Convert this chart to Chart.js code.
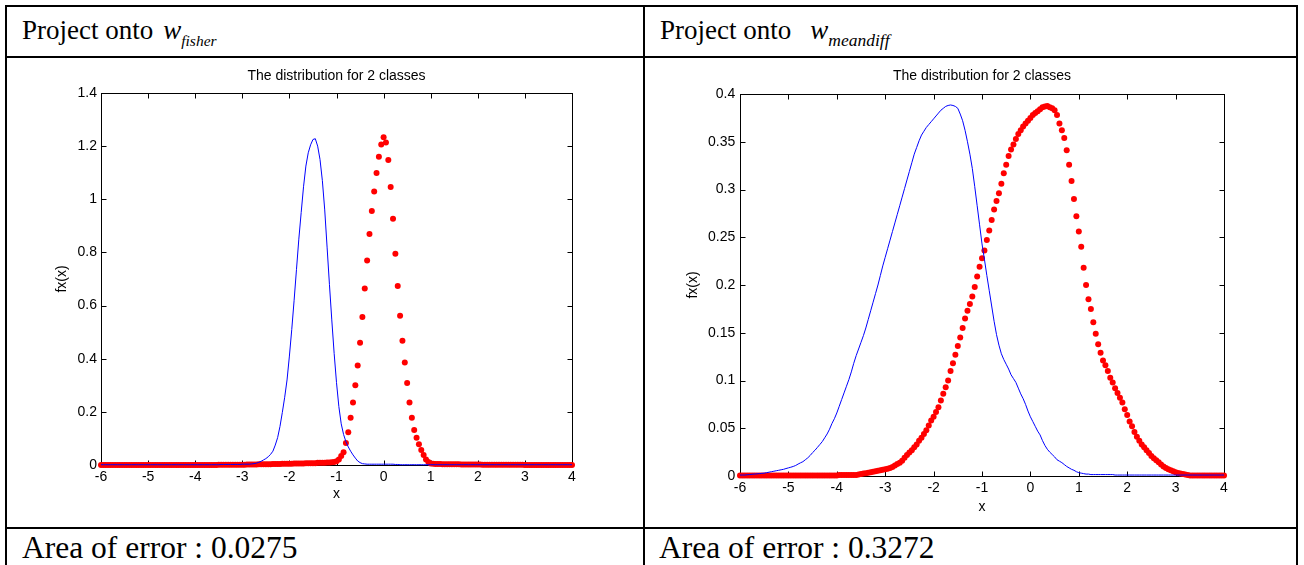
<!DOCTYPE html>
<html><head><meta charset="utf-8">
<script src="https://cdn.jsdelivr.net/npm/chart.js@4.4.0/dist/chart.umd.min.js"></script>
<style>
html,body{margin:0;padding:0;background:#fff;width:1304px;height:565px;overflow:hidden;}
.ln{position:absolute;background:#000;}
.txt{position:absolute;font-family:'Liberation Serif','Times New Roman',serif;font-size:31.5px;line-height:1;white-space:nowrap;color:#000;}
.hd{font-size:27px;}
.w{font-style:italic;}
.sub{font-style:italic;position:relative;top:7px;}
canvas{position:absolute;}
</style></head><body>
<div class="ln" style="left:5px;top:5px;width:1293px;height:2px"></div>
<div class="ln" style="left:5px;top:56px;width:1293px;height:2px"></div>
<div class="ln" style="left:5px;top:527px;width:1293px;height:2px"></div>
<div class="ln" style="left:5px;top:5px;width:2px;height:570px"></div>
<div class="ln" style="left:643px;top:5px;width:2px;height:570px"></div>
<div class="ln" style="left:1296px;top:5px;width:2px;height:570px"></div>

<div class="txt hd" style="left:22px;top:17px">Project onto<span class="w" style="margin-left:10px">w</span><span class="sub" style="font-size:15.5px">fisher</span></div>
<div class="txt hd" style="left:660px;top:17px">Project onto<span class="w" style="margin-left:19px">w</span><span class="sub" style="font-size:17.5px">meandiff</span></div>
<div class="txt" style="left:22px;top:531.5px">Area of error : 0.0275</div>
<div class="txt" style="left:659px;top:531.5px">Area of error : 0.3272</div>

<canvas id="c1" width="630" height="465" style="left:10px;top:60px"></canvas>
<canvas id="c2" width="635" height="466" style="left:655px;top:60px"></canvas>

<script>
const xs = [
-6,-5.95,-5.9,-5.85,-5.8,-5.75,-5.7,-5.65,-5.6,-5.55,
-5.5,-5.45,-5.4,-5.35,-5.3,-5.25,-5.2,-5.15,-5.1,-5.05,
-5,-4.95,-4.9,-4.85,-4.8,-4.75,-4.7,-4.65,-4.6,-4.55,
-4.5,-4.45,-4.4,-4.35,-4.3,-4.25,-4.2,-4.15,-4.1,-4.05,
-4,-3.95,-3.9,-3.85,-3.8,-3.75,-3.7,-3.65,-3.6,-3.55,
-3.5,-3.45,-3.4,-3.35,-3.3,-3.25,-3.2,-3.15,-3.1,-3.05,
-3,-2.95,-2.9,-2.85,-2.8,-2.75,-2.7,-2.65,-2.6,-2.55,
-2.5,-2.45,-2.4,-2.35,-2.3,-2.25,-2.2,-2.15,-2.1,-2.05,
-2,-1.95,-1.9,-1.85,-1.8,-1.75,-1.7,-1.65,-1.6,-1.55,
-1.5,-1.45,-1.4,-1.35,-1.3,-1.25,-1.2,-1.15,-1.1,-1.05,
-1,-0.95,-0.9,-0.85,-0.8,-0.75,-0.7,-0.65,-0.6,-0.55,
-0.5,-0.45,-0.4,-0.35,-0.3,-0.25,-0.2,-0.15,-0.1,-0.05,
0,0.05,0.1,0.15,0.2,0.25,0.3,0.35,0.4,0.45,
0.5,0.55,0.6,0.65,0.7,0.75,0.8,0.85,0.9,0.95,
1,1.05,1.1,1.15,1.2,1.25,1.3,1.35,1.4,1.45,
1.5,1.55,1.6,1.65,1.7,1.75,1.8,1.85,1.9,1.95,
2,2.05,2.1,2.15,2.2,2.25,2.3,2.35,2.4,2.45,
2.5,2.55,2.6,2.65,2.7,2.75,2.8,2.85,2.9,2.95,
3,3.05,3.1,3.15,3.2,3.25,3.3,3.35,3.4,3.45,
3.5,3.55,3.6,3.65,3.7,3.75,3.8,3.85,3.9,3.95,
4];

// Projection onto w_fisher : class 1 (blue line)
const fisherClass1 = [
0.001,0.001,0.001,0.001,0.001,0.001,0.001,0.001,0.001,0.001,
0.001,0.001,0.001,0.001,0.001,0.001,0.001,0.001,0.001,0.001,
0.001,0.001,0.001,0.001,0.001,0.001,0.001,0.001,0.001,0.001,
0.001,0.001,0.001,0.001,0.001,0.001,0.001,0.001,0.001,0.001,
0.001,0.001,0.001,0.001,0.001,0.001,0.001,0.001,0.001,0.001,
0.001,0.002,0.002,0.002,0.002,0.002,0.002,0.002,0.002,0.002,
0.003,0.003,0.003,0.003,0.004,0.005,0.007,0.010,0.014,0.019,
0.024,0.031,0.040,0.052,0.075,0.103,0.145,0.198,0.255,0.320,
0.410,0.510,0.620,0.735,0.850,0.950,1.047,1.125,1.175,1.205,
1.225,1.228,1.200,1.150,1.070,0.960,0.820,0.680,0.546,0.420,
0.310,0.220,0.155,0.115,0.088,0.068,0.052,0.038,0.026,0.015,
0.009,0.005,0.004,0.003,0.003,0.003,0.003,0.003,0.003,0.003,
0.003,0.003,0.003,0.003,0.003,0.002,0.002,0.001,0.001,0.001,
0.001,0.001,0.001,0.001,0.001,0.001,0.001,0.001,0.001,0.001,
0.001,0.001,0.001,0.001,0.001,0.001,0.001,0.001,0.001,0.001,
0.001,0.001,0.001,0.001,0.001,0.001,0.001,0.001,0.001,0.001,
0.001,0.001,0.001,0.001,0.001,0.001,0.001,0.001,0.001,0.001,
0.001,0.001,0.001,0.001,0.001,0.001,0.001,0.001,0.001,0.001,
0.001,0.001,0.001,0.001,0.001,0.001,0.001,0.001,0.001,0.001,
0.001,0.001,0.001,0.001,0.001,0.001,0.001,0.001,0.001,0.001,
0.001];

// Projection onto w_fisher : class 2 (red dots)
const fisherClass2 = [
0,0,0,0,0,0,0,0,0,0,
0,0,0,0,0,0,0,0,0,0,
0,0,0,0,0,0,0,0,0,0,
0,0,0,0,0,0,0,0,0,0,
0,0,0,0,0,0,0,0,0,0,
0.001,0.001,0.001,0.001,0.001,0.001,0.001,0.001,0.001,0.001,
0.001,0.001,0.002,0.002,0.002,0.002,0.002,0.003,0.003,0.003,
0.003,0.003,0.003,0.004,0.004,0.004,0.004,0.005,0.005,0.005,
0.005,0.005,0.006,0.006,0.006,0.006,0.006,0.007,0.007,0.007,
0.007,0.007,0.008,0.008,0.008,0.008,0.009,0.009,0.010,0.011,
0.014,0.021,0.034,0.048,0.083,0.123,0.178,0.235,0.300,0.374,
0.460,0.557,0.664,0.770,0.869,0.956,1.029,1.099,1.160,1.206,
1.233,1.214,1.148,1.046,0.927,0.795,0.674,0.562,0.468,0.386,
0.309,0.235,0.178,0.132,0.103,0.078,0.056,0.038,0.021,0.011,
0.006,0.005,0.004,0.004,0.004,0.003,0.003,0.003,0.003,0.003,
0.003,0.003,0.003,0.002,0.002,0.002,0.002,0.002,0.002,0.002,
0.002,0.002,0.001,0.001,0.001,0.001,0.001,0.001,0.001,0.001,
0.001,0.001,0.001,0.001,0.001,0.001,0.001,0.001,0.001,0.001,
0,0,0,0,0,0,0,0,0,0,
0,0,0,0,0,0,0,0,0,0,
0];

// Projection onto w_meandiff : class 1 (blue line)
const meandiffClass1 = [
0.001,0.001,0.001,0.0013,0.0015,0.0018,0.002,0.0022,0.0025,0.0028,
0.003,0.0035,0.004,0.0045,0.005,0.0055,0.006,0.0065,0.007,0.0078,
0.0085,0.0092,0.010,0.011,0.0125,0.0138,0.015,0.017,0.019,0.0215,
0.0245,0.027,0.030,0.033,0.036,0.040,0.044,0.049,0.055,0.060,
0.066,0.073,0.080,0.087,0.094,0.101,0.109,0.118,0.126,0.133,
0.140,0.147,0.155,0.164,0.173,0.182,0.191,0.200,0.210,0.220,
0.229,0.238,0.247,0.256,0.265,0.274,0.283,0.292,0.301,0.310,
0.319,0.328,0.337,0.344,0.351,0.357,0.361,0.365,0.368,0.371,
0.374,0.377,0.380,0.383,0.385,0.387,0.388,0.3885,0.388,0.387,
0.385,0.379,0.372,0.362,0.350,0.337,0.322,0.303,0.283,0.263,
0.243,0.227,0.210,0.194,0.178,0.162,0.148,0.137,0.128,0.122,
0.117,0.112,0.106,0.102,0.098,0.092,0.086,0.081,0.075,0.068,
0.062,0.057,0.052,0.047,0.043,0.037,0.032,0.028,0.025,0.0225,
0.020,0.017,0.0155,0.014,0.012,0.010,0.0085,0.007,0.006,0.0045,
0.0035,0.003,0.0025,0.002,0.002,0.0015,0.0015,0.0015,0.0015,0.0015,
0.0015,0.0015,0.0015,0.0015,0.0015,0.001,0.001,0.001,0.001,0.001,
0.001,0.001,0.001,0.001,0.001,0.001,0.001,0.001,0.001,0.001,
0.001,0.001,0.001,0.001,0.001,0.001,0.001,0.001,0.001,0.001,
0.001,0.001,0.001,0.001,0.001,0.001,0.001,0.001,0.001,0.001,
0.001,0.001,0.001,0.001,0.001,0.001,0.001,0.001,0.001,0.001,
0.001];

// Projection onto w_meandiff : class 2 (red dots)
const meandiffClass2 = [
0.0005,0.0005,0.0005,0.0005,0.0005,0.0005,0.0005,0.0005,0.0005,0.0005,
0.0005,0.0005,0.0005,0.0005,0.0005,0.0005,0.0005,0.0005,0.0005,0.0005,
0.0005,0.0005,0.0005,0.0005,0.0005,0.0005,0.0005,0.0005,0.0005,0.0005,
0.0005,0.0005,0.0005,0.0005,0.0005,0.0005,0.0005,0.0005,0.0005,0.0005,
0.0005,0.001,0.001,0.001,0.001,0.001,0.001,0.001,0.001,0.0015,
0.002,0.0025,0.003,0.0035,0.004,0.0045,0.005,0.0055,0.006,0.0065,
0.007,0.0075,0.0085,0.0095,0.011,0.0125,0.014,0.016,0.019,0.022,
0.0245,0.027,0.030,0.033,0.037,0.040,0.044,0.048,0.053,0.058,
0.062,0.067,0.072,0.079,0.086,0.093,0.100,0.110,0.118,0.127,
0.136,0.145,0.155,0.165,0.173,0.180,0.188,0.198,0.209,0.219,
0.228,0.236,0.247,0.257,0.268,0.279,0.288,0.296,0.306,0.317,
0.326,0.335,0.342,0.347,0.353,0.358,0.362,0.366,0.369,0.372,
0.375,0.378,0.380,0.382,0.384,0.386,0.387,0.3875,0.386,0.385,
0.383,0.378,0.369,0.362,0.354,0.341,0.326,0.309,0.290,0.272,
0.256,0.240,0.218,0.200,0.185,0.175,0.161,0.149,0.138,0.129,
0.121,0.116,0.110,0.103,0.098,0.092,0.087,0.082,0.077,0.070,
0.064,0.057,0.052,0.046,0.041,0.037,0.033,0.030,0.027,0.024,
0.021,0.0185,0.0165,0.0145,0.012,0.010,0.0085,0.007,0.006,0.005,
0.004,0.0032,0.0025,0.002,0.0015,0.001,0.0005,0.0005,0.0005,0.0005,
0.0005,0.0005,0.0005,0.0005,0.0005,0.0005,0.0005,0.0005,0.0005,0.0005,
0.0005];

const xTicks = [-6,-5,-4,-3,-2,-1,0,1,2,3,4];
const fisherYTicks = [0,0.2,0.4,0.6,0.8,1,1.2,1.4];
const meandiffYTicks = [0,0.05,0.1,0.15,0.2,0.25,0.3,0.35,0.4];
const chartTitle = 'The distribution for 2 classes';
const xLabel = 'x';
const yLabel = 'fx(x)';

const FONT = "'Liberation Sans', Arial, Helvetica, sans-serif";

const boxPlugin = {
  id: 'matlabBox',
  beforeDatasetsDraw(chart) {
    const {ctx, chartArea: a, scales: {x, y}} = chart;
    ctx.save();
    ctx.strokeStyle = '#000';
    ctx.lineWidth = 1;
    const L = Math.round(a.left) + 0.5, R = Math.round(a.right) + 0.5;
    const T = Math.round(a.top) + 0.5, B = Math.round(a.bottom) + 0.5;
    ctx.strokeRect(L, T, R - L, B - T);
    const tl = 5;
    ctx.beginPath();
    x.ticks.forEach(t => {
      const px = Math.round(x.getPixelForValue(t.value)) + 0.5;
      ctx.moveTo(px, B); ctx.lineTo(px, B - tl);
      ctx.moveTo(px, T); ctx.lineTo(px, T + tl);
    });
    y.ticks.forEach(t => {
      const py = Math.round(y.getPixelForValue(t.value)) + 0.5;
      ctx.moveTo(L, py); ctx.lineTo(L + tl, py);
      ctx.moveTo(R, py); ctx.lineTo(R - tl, py);
    });
    ctx.stroke();
    ctx.restore();
  }
};

function makeChart(id, c1, c2, yTicks, yMax, g) {
  const font = {family: FONT, size: 14, weight: 'normal'};
  return new Chart(document.getElementById(id), {
    type: 'scatter',
    data: {
      datasets: [
        {label: 'class 1', data: xs.map((x, i) => ({x: x, y: c1[i]})), showLine: true,
         borderColor: '#0000ff', borderWidth: 1, pointRadius: 0, pointHoverRadius: 0,
         tension: 0, clip: false},
        {label: 'class 2', data: xs.map((x, i) => ({x: x, y: c2[i]})), showLine: false,
         pointRadius: 3, pointHoverRadius: 3, pointBackgroundColor: '#ff0000',
         pointBorderWidth: 0, borderColor: '#ff0000', backgroundColor: '#ff0000', clip: false}
      ]
    },
    options: {
      responsive: false, animation: false, devicePixelRatio: 1,
      events: [],
      layout: {padding: {left: 0, right: g.padRight, top: 0, bottom: 0}},
      plugins: {
        legend: {display: false},
        tooltip: {enabled: false},
        title: {display: true, text: chartTitle, color: '#000', font: font,
                padding: {top: g.titleTop, bottom: g.titleBottom}, fullSize: false}
      },
      scales: {
        x: {
          type: 'linear', position: 'bottom', min: -6, max: 4,
          grid: {display: false, drawTicks: false}, border: {display: false},
          ticks: {color: '#000', font: font, padding: g.xTickPad, autoSkip: false,
                  maxRotation: 0, callback: v => String(v)},
          afterBuildTicks: s => { s.ticks = xTicks.map(v => ({value: v})); },
          afterFit: s => { s.height = g.xHeight; },
          title: {display: true, text: xLabel, color: '#000', font: font,
                  padding: {top: 0, bottom: g.xTitlePad}}
        },
        y: {
          type: 'linear', position: 'left', min: 0, max: yMax,
          grid: {display: false, drawTicks: false}, border: {display: false},
          ticks: {color: '#000', font: font, padding: g.yTickPad, autoSkip: false,
                  callback: v => String(v)},
          afterBuildTicks: s => { s.ticks = yTicks.map(v => ({value: v})); },
          afterFit: s => { s.width = g.yWidth; },
          title: {display: true, text: yLabel, color: '#000', font: font,
                  padding: {top: g.yTitlePad, bottom: 0}}
        }
      }
    },
    plugins: [boxPlugin]
  });
}

makeChart('c1', fisherClass1, fisherClass2, fisherYTicks, 1.4,
  {padRight: 68, titleTop: 7.45, titleBottom: 8.75, xHeight: 60, xTickPad: 3.5,
   xTitlePad: 22, yWidth: 91, yTickPad: 4, yTitlePad: 43.3});
makeChart('c2', meandiffClass1, meandiffClass2, meandiffYTicks, 0.4,
  {padRight: 66, titleTop: 7.45, titleBottom: 9.75, xHeight: 50, xTickPad: 4,
   xTitlePad: 10.8, yWidth: 85, yTickPad: 4.7, yTitlePad: 29.9});
</script>
</body></html>
